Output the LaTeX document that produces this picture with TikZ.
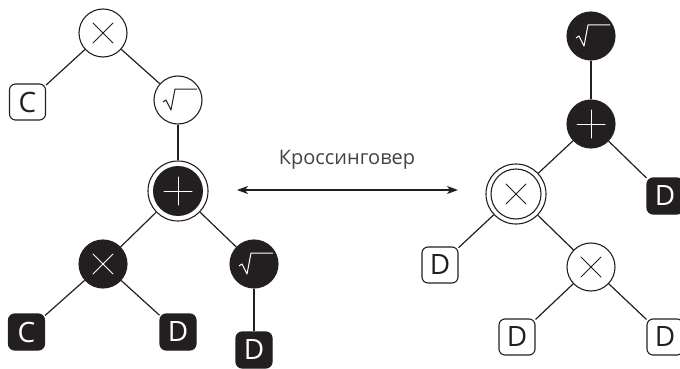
\documentclass[tikz,border=0pt]{standalone}
\usepackage{fontspec}
\setmainfont{Open Sans}
\usetikzlibrary{arrows.meta}
\definecolor{ink}{HTML}{231F20}
\tikzset{
  conn/.style={line width=1.2pt, draw=ink},
  wcirc/.style={circle, draw=ink, line width=1.1pt, fill=white, minimum size=48pt, inner sep=0pt},
  bcirc/.style={circle, draw=ink, line width=1.1pt, fill=ink, minimum size=48pt, inner sep=0pt},
  ringc/.style={circle, draw=ink, line width=1.1pt, fill=white, minimum size=60pt, inner sep=0pt},
  wbox/.style={rectangle, rounded corners=6pt, draw=ink, line width=1.1pt, fill=white, minimum size=36pt, inner sep=0pt, text=ink, font=\fontsize{28}{28}\selectfont},
  bbox/.style={rectangle, rounded corners=6pt, draw=ink, line width=1.1pt, fill=ink, minimum size=36pt, inner sep=0pt, text=white, font=\fontsize{28}{28}\selectfont},
  xsym/.pic={\draw[line width=1pt, line cap=round] (-10,-10) -- (10,10) (-10,10) -- (10,-10);},
  psym/.pic={\draw[line width=1pt, line cap=round] (-14,0) -- (14,0) (0,-14) -- (0,14);},
  rsym/.pic={\draw[line width=1pt, line join=round] (-15,2) -- (-12,0) -- (-7,10) -- (-3,-11) -- (19,-11);},
}
\begin{document}
\begin{tikzpicture}[x=1pt,y=-1pt]
\useasboundingbox (0,0) rectangle (680,369);
% left tree
\node[wcirc] (lx) at (103,33) {};
\node[wbox] (lc) at (27.5,102) {C};
\node[wcirc] (lr) at (178,100) {};
\node[ringc] (lp) at (178,191) {};
\fill[ink] (lp) circle (25pt);
\node[bcirc] (lx2) at (103,264) {};
\node[bcirc] (lr2) at (254,264) {};
\node[bbox] (lc2) at (26.5,332) {C};
\node[bbox] (ld1) at (178,332) {D};
\node[bbox] (ld2) at (254,350) {D};
\draw[conn] (lx) -- (lc);
\draw[conn] (lx) -- (lr);
\draw[conn] (lr) -- (lp);
\draw[conn] (lp) -- (lx2);
\draw[conn] (lp) -- (lr2);
\draw[conn] (lx2) -- (lc2);
\draw[conn] (lx2) -- (ld1);
\draw[conn] (lr2) -- (ld2);
\pic[ink] at (lx) {xsym};
\pic[ink] at (lr) {rsym};
\pic[white] at (lp) {psym};
\pic[white] at (lx2) {xsym};
\pic[white] at (lr2) {rsym};
% right tree
\node[bcirc] (rr) at (591,36) {};
\node[bcirc] (rp) at (591,124) {};
\node[ringc] (rx) at (516,194) {};
\draw[ink, line width=1.1pt] (rx) circle (25pt);
\node[bbox] (rd0) at (665,196) {D};
\node[wbox] (rd1) at (440,265) {D};
\node[wcirc] (rx2) at (591,267) {};
\node[wbox] (rd2) at (517,337) {D};
\node[wbox] (rd3) at (665,337) {D};
\draw[conn] (rr) -- (rp);
\draw[conn] (rp) -- (rx);
\draw[conn] (rp) -- (rd0);
\draw[conn] (rx) -- (rd1);
\draw[conn] (rx) -- (rx2);
\draw[conn] (rx2) -- (rd2);
\draw[conn] (rx2) -- (rd3);
\pic[white] at (rr) {rsym};
\pic[white] at (rp) {psym};
\pic[ink] at (rx) {xsym};
\pic[ink] at (rx2) {xsym};
% crossover arrow
\coordinate (a1) at (237,190);
\coordinate (a2) at (458,190);
\draw[line width=1.2pt, draw=ink, {Stealth[length=11pt,width=8pt,inset=3pt]}-{Stealth[length=11pt,width=8pt,inset=3pt]}] (a1) -- (a2);
\node[text=ink!85, font=\fontsize{20}{20}\selectfont] (lab) at (347,160) {Кроссинговер};
\end{tikzpicture}
\end{document}
